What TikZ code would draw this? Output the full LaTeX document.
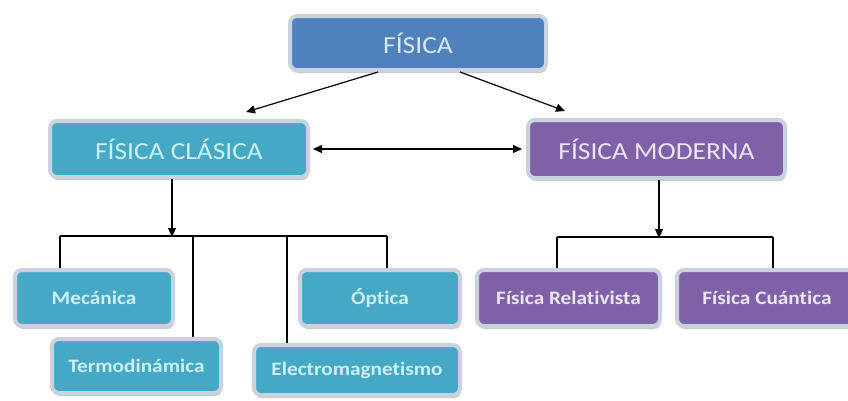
\documentclass[tikz,border=0pt]{standalone}
\usepackage{fontspec}
\setmainfont{Carlito}
\newfontfamily\widefont[FakeStretch=1.12,Ligatures=NoCommon]{Carlito}
\usetikzlibrary{arrows.meta,shadows,calc}
\definecolor{fisfill}{HTML}{4F81BD}
\definecolor{clafill}{HTML}{45A9C6}
\definecolor{modfill}{HTML}{7F61A7}
\definecolor{boxedge}{HTML}{C9D2DE}
\definecolor{fistext}{HTML}{DCE7F5}
\definecolor{clatext}{HTML}{CDEFF8}
\definecolor{modtext}{HTML}{EEE3F7}
\tikzset{
  x=1pt, y=-1pt,
  box/.style={rounded corners=7pt, draw=boxedge, line width=4pt, inner sep=0pt,
    drop shadow={shadow xshift=1pt, shadow yshift=-3pt, fill=black!35, opacity=0.6}},
  topbox/.style={box, font=\widefont\fontsize{24.5}{26}\selectfont},
  subbox/.style={box, font=\widefont\fontsize{19}{21}\selectfont\bfseries},
  conn/.style={line width=1.2pt, black},
  arr/.style={conn, -{Triangle[length=9pt,width=8pt]}},
  darr/.style={conn, {Triangle[length=9pt,width=8pt]}-{Triangle[length=9pt,width=8pt]}}
}
\begin{document}
\begin{tikzpicture}
\useasboundingbox (0,0) rectangle (848,400);
\begin{scope}
\clip (0,0) rectangle (848,400);
\node[topbox, fill=fisfill, text=fistext, minimum width=256pt, minimum height=54pt] (fis) at (418,43) {FÍSICA};
\node[topbox, fill=clafill, text=clatext, minimum width=258pt, minimum height=56pt] (cla) at (179,149) {FÍSICA CLÁSICA};
\node[topbox, fill=modfill, text=modtext, minimum width=257pt, minimum height=58pt] (mod) at (656.5,149) {FÍSICA MODERNA};

\node[subbox, fill=clafill, text=clatext, minimum width=158pt, minimum height=56pt] (mec) at (94,298) {Mecánica};
\node[subbox, fill=clafill, text=clatext, minimum width=169pt, minimum height=54pt] (ter) at (136.5,366) {Termodinámica};
\node[subbox, fill=clafill, text=clatext, minimum width=206pt, minimum height=50pt] (ele) at (357,370) {Electromagnetismo};
\node[subbox, fill=clafill, text=clatext, minimum width=160pt, minimum height=56pt] (opt) at (380,298) {Óptica};
\node[subbox, fill=modfill, text=modtext, minimum width=183pt, minimum height=56pt] (rel) at (568.5,298) {Física Relativista};
\node[subbox, fill=modfill, text=modtext, minimum width=180pt, minimum height=56pt] (cua) at (767,298) {Física Cuántica};
\end{scope}

% top arrows
\draw[arr] ([xshift=-40pt]fis.south) -- ([xshift=67pt,yshift=7pt]cla.north);
\draw[arr] ([xshift=42pt]fis.south) -- ([xshift=-91.5pt,yshift=7pt]mod.north);
\draw[darr] ([xshift=3pt]cla.east) -- ([xshift=-4pt]mod.west);

% left tree
\coordinate (lc) at (172,236);
\coordinate (l1) at (60,236);
\coordinate (l2) at (193,236);
\coordinate (l3) at (287,236);
\coordinate (l4) at (387,236);
\draw[arr] (lc |- cla.south) -- ([yshift=-1pt]lc);
\draw[conn] (l1) -- (l4);
\draw[conn] (l1) -- (l1 |- mec.north);
\draw[conn] (l2) -- (l2 |- ter.north);
\draw[conn] (l3) -- (l3 |- ele.north);
\draw[conn] (l4) -- (l4 |- opt.north);

% right tree
\coordinate (rc) at (659,237);
\coordinate (r1) at (557,237);
\coordinate (r2) at (773,237);
\draw[arr] (rc |- mod.south) -- ([yshift=-1pt]rc);
\draw[conn] (r1) -- (r2);
\draw[conn] (r1) -- (r1 |- rel.north);
\draw[conn] (r2) -- (r2 |- cua.north);
\end{tikzpicture}
\end{document}
